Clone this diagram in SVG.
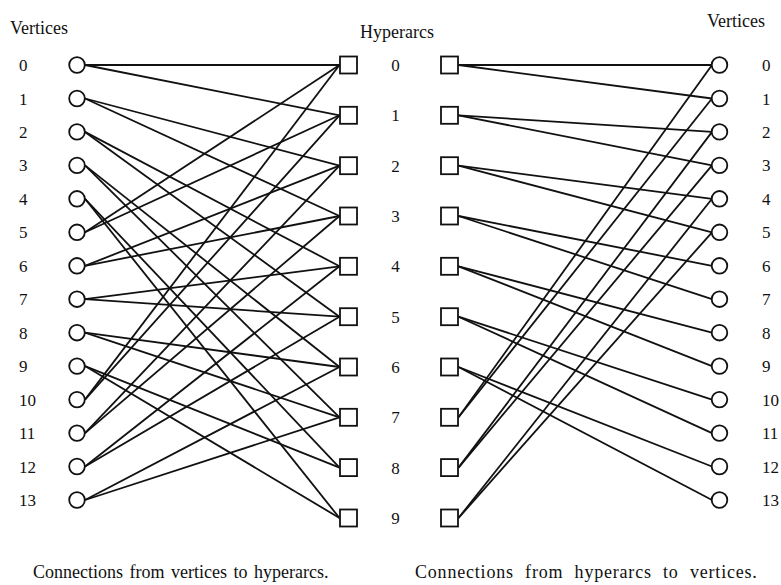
<svg xmlns="http://www.w3.org/2000/svg" width="781" height="585" viewBox="0 0 781 585">
<style>
text{font-family:"Liberation Serif","Times New Roman",serif;fill:#111}
.h{font-size:18px}
.n{font-size:17px}
.c{font-size:18px}
.e line{stroke:#111;stroke-width:1.8;fill:none}
.v circle{fill:#fff;stroke:#111;stroke-width:1.8}
.s rect{fill:#fff;stroke:#111;stroke-width:1.8}
</style>
<rect width="781" height="585" fill="#fff"/>
<text class="h" x="10" y="34">Vertices</text>
<text class="h" x="360" y="38">Hyperarcs</text>
<text class="h" x="707" y="27">Vertices</text>
<g id="connectors" class="e">
<line x1="85" y1="65" x2="339.5" y2="65"/>
<line x1="85" y1="65" x2="339.5" y2="115.3"/>
<line x1="85" y1="98.5" x2="339.5" y2="165.7"/>
<line x1="85" y1="98.5" x2="339.5" y2="216"/>
<line x1="85" y1="131.9" x2="339.5" y2="266.3"/>
<line x1="85" y1="131.9" x2="339.5" y2="316.7"/>
<line x1="85" y1="165.4" x2="339.5" y2="367"/>
<line x1="85" y1="165.4" x2="339.5" y2="417.3"/>
<line x1="85" y1="198.8" x2="339.5" y2="467.6"/>
<line x1="85" y1="198.8" x2="339.5" y2="518"/>
<line x1="85" y1="232.3" x2="339.5" y2="65"/>
<line x1="85" y1="232.3" x2="339.5" y2="115.3"/>
<line x1="85" y1="265.8" x2="339.5" y2="165.7"/>
<line x1="85" y1="265.8" x2="339.5" y2="216"/>
<line x1="85" y1="299.2" x2="339.5" y2="266.3"/>
<line x1="85" y1="299.2" x2="339.5" y2="316.7"/>
<line x1="85" y1="332.7" x2="339.5" y2="367"/>
<line x1="85" y1="332.7" x2="339.5" y2="417.3"/>
<line x1="85" y1="366.1" x2="339.5" y2="467.6"/>
<line x1="85" y1="366.1" x2="339.5" y2="518"/>
<line x1="85" y1="399.6" x2="339.5" y2="65"/>
<line x1="85" y1="399.6" x2="339.5" y2="115.3"/>
<line x1="85" y1="433.1" x2="339.5" y2="165.7"/>
<line x1="85" y1="433.1" x2="339.5" y2="216"/>
<line x1="85" y1="466.5" x2="339.5" y2="266.3"/>
<line x1="85" y1="466.5" x2="339.5" y2="316.7"/>
<line x1="85" y1="500" x2="339.5" y2="367"/>
<line x1="85" y1="500" x2="339.5" y2="417.3"/>
<line x1="458.5" y1="65" x2="712" y2="65"/>
<line x1="458.5" y1="65" x2="712" y2="98.5"/>
<line x1="458.5" y1="115.3" x2="712" y2="131.9"/>
<line x1="458.5" y1="115.3" x2="712" y2="165.4"/>
<line x1="458.5" y1="165.7" x2="712" y2="198.8"/>
<line x1="458.5" y1="165.7" x2="712" y2="232.3"/>
<line x1="458.5" y1="216" x2="712" y2="265.8"/>
<line x1="458.5" y1="216" x2="712" y2="299.2"/>
<line x1="458.5" y1="266.3" x2="712" y2="332.7"/>
<line x1="458.5" y1="266.3" x2="712" y2="366.1"/>
<line x1="458.5" y1="316.7" x2="712" y2="399.6"/>
<line x1="458.5" y1="316.7" x2="712" y2="433.1"/>
<line x1="458.5" y1="367" x2="712" y2="466.5"/>
<line x1="458.5" y1="367" x2="712" y2="500"/>
<line x1="458.5" y1="417.3" x2="712" y2="65"/>
<line x1="458.5" y1="417.3" x2="712" y2="98.5"/>
<line x1="458.5" y1="467.6" x2="712" y2="131.9"/>
<line x1="458.5" y1="467.6" x2="712" y2="165.4"/>
<line x1="458.5" y1="518" x2="712" y2="198.8"/>
<line x1="458.5" y1="518" x2="712" y2="232.3"/>
</g>
<g id="left-vertices" class="v">
<g id="lv0"><circle cx="77" cy="65" r="7.8"/><text class="n" x="19" y="71">0</text></g>
<g id="lv1"><circle cx="77" cy="98.5" r="7.8"/><text class="n" x="19" y="104.5">1</text></g>
<g id="lv2"><circle cx="77" cy="131.9" r="7.8"/><text class="n" x="19" y="137.9">2</text></g>
<g id="lv3"><circle cx="77" cy="165.4" r="7.8"/><text class="n" x="19" y="171.4">3</text></g>
<g id="lv4"><circle cx="77" cy="198.8" r="7.8"/><text class="n" x="19" y="204.8">4</text></g>
<g id="lv5"><circle cx="77" cy="232.3" r="7.8"/><text class="n" x="19" y="238.3">5</text></g>
<g id="lv6"><circle cx="77" cy="265.8" r="7.8"/><text class="n" x="19" y="271.8">6</text></g>
<g id="lv7"><circle cx="77" cy="299.2" r="7.8"/><text class="n" x="19" y="305.2">7</text></g>
<g id="lv8"><circle cx="77" cy="332.7" r="7.8"/><text class="n" x="19" y="338.7">8</text></g>
<g id="lv9"><circle cx="77" cy="366.1" r="7.8"/><text class="n" x="19" y="372.1">9</text></g>
<g id="lv10"><circle cx="77" cy="399.6" r="7.8"/><text class="n" x="19" y="405.6">10</text></g>
<g id="lv11"><circle cx="77" cy="433.1" r="7.8"/><text class="n" x="19" y="439.1">11</text></g>
<g id="lv12"><circle cx="77" cy="466.5" r="7.8"/><text class="n" x="19" y="472.5">12</text></g>
<g id="lv13"><circle cx="77" cy="500" r="7.8"/><text class="n" x="19" y="506">13</text></g>
</g>
<g id="hyperarcs" class="s">
<g id="h0"><rect x="340" y="56.5" width="17" height="17"/><text class="n" x="395.5" y="71" text-anchor="middle">0</text><rect x="441" y="56.5" width="17" height="17"/></g>
<g id="h1"><rect x="340" y="106.8" width="17" height="17"/><text class="n" x="395.5" y="121.3" text-anchor="middle">1</text><rect x="441" y="106.8" width="17" height="17"/></g>
<g id="h2"><rect x="340" y="157.2" width="17" height="17"/><text class="n" x="395.5" y="171.7" text-anchor="middle">2</text><rect x="441" y="157.2" width="17" height="17"/></g>
<g id="h3"><rect x="340" y="207.5" width="17" height="17"/><text class="n" x="395.5" y="222" text-anchor="middle">3</text><rect x="441" y="207.5" width="17" height="17"/></g>
<g id="h4"><rect x="340" y="257.8" width="17" height="17"/><text class="n" x="395.5" y="272.3" text-anchor="middle">4</text><rect x="441" y="257.8" width="17" height="17"/></g>
<g id="h5"><rect x="340" y="308.2" width="17" height="17"/><text class="n" x="395.5" y="322.7" text-anchor="middle">5</text><rect x="441" y="308.2" width="17" height="17"/></g>
<g id="h6"><rect x="340" y="358.5" width="17" height="17"/><text class="n" x="395.5" y="373" text-anchor="middle">6</text><rect x="441" y="358.5" width="17" height="17"/></g>
<g id="h7"><rect x="340" y="408.8" width="17" height="17"/><text class="n" x="395.5" y="423.3" text-anchor="middle">7</text><rect x="441" y="408.8" width="17" height="17"/></g>
<g id="h8"><rect x="340" y="459.1" width="17" height="17"/><text class="n" x="395.5" y="473.6" text-anchor="middle">8</text><rect x="441" y="459.1" width="17" height="17"/></g>
<g id="h9"><rect x="340" y="509.5" width="17" height="17"/><text class="n" x="395.5" y="524" text-anchor="middle">9</text><rect x="441" y="509.5" width="17" height="17"/></g>
</g>
<g id="right-vertices" class="v">
<g id="rv0"><circle cx="719.5" cy="65" r="7.8"/><text class="n" x="762" y="71">0</text></g>
<g id="rv1"><circle cx="719.5" cy="98.5" r="7.8"/><text class="n" x="762" y="104.5">1</text></g>
<g id="rv2"><circle cx="719.5" cy="131.9" r="7.8"/><text class="n" x="762" y="137.9">2</text></g>
<g id="rv3"><circle cx="719.5" cy="165.4" r="7.8"/><text class="n" x="762" y="171.4">3</text></g>
<g id="rv4"><circle cx="719.5" cy="198.8" r="7.8"/><text class="n" x="762" y="204.8">4</text></g>
<g id="rv5"><circle cx="719.5" cy="232.3" r="7.8"/><text class="n" x="762" y="238.3">5</text></g>
<g id="rv6"><circle cx="719.5" cy="265.8" r="7.8"/><text class="n" x="762" y="271.8">6</text></g>
<g id="rv7"><circle cx="719.5" cy="299.2" r="7.8"/><text class="n" x="762" y="305.2">7</text></g>
<g id="rv8"><circle cx="719.5" cy="332.7" r="7.8"/><text class="n" x="762" y="338.7">8</text></g>
<g id="rv9"><circle cx="719.5" cy="366.1" r="7.8"/><text class="n" x="762" y="372.1">9</text></g>
<g id="rv10"><circle cx="719.5" cy="399.6" r="7.8"/><text class="n" x="762" y="405.6">10</text></g>
<g id="rv11"><circle cx="719.5" cy="433.1" r="7.8"/><text class="n" x="762" y="439.1">11</text></g>
<g id="rv12"><circle cx="719.5" cy="466.5" r="7.8"/><text class="n" x="762" y="472.5">12</text></g>
<g id="rv13"><circle cx="719.5" cy="500" r="7.8"/><text class="n" x="762" y="506">13</text></g>
</g>
<text class="c" x="33" y="578" word-spacing="2">Connections from vertices to hyperarcs.</text>
<text class="c" x="415" y="578" letter-spacing="0.8" word-spacing="6">Connections from hyperarcs to vertices.</text>
</svg>
